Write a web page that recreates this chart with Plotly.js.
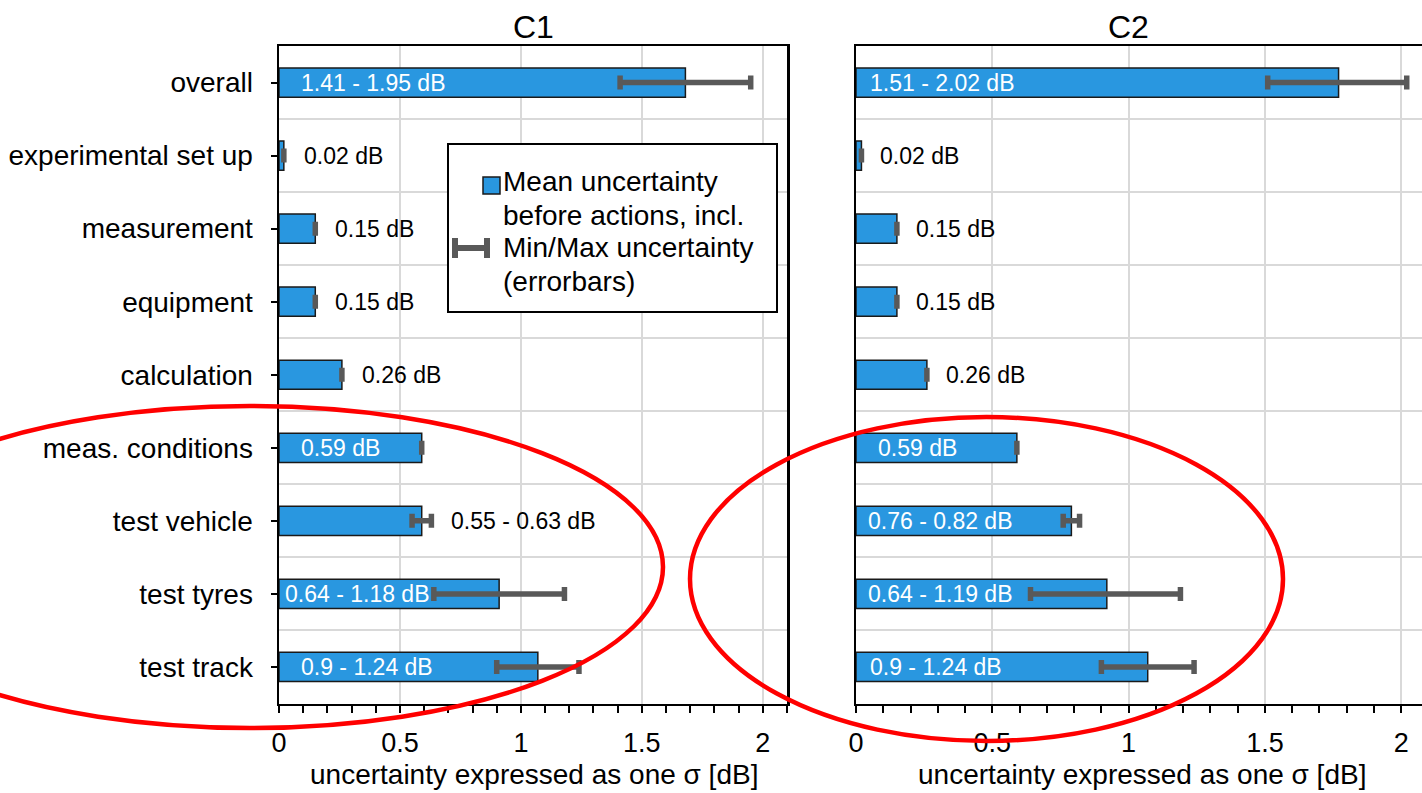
<!DOCTYPE html>
<html><head><meta charset="utf-8">
<script src="https://cdn.plot.ly/plotly-3.0.1.min.js"></script>
<style>html,body{margin:0;padding:0;background:#fff}#chart{width:1422px;height:793px}</style>
</head><body><div id="chart"></div>
<script>
// ---------- data ----------
const categories = ["overall","experimental set up","measurement","equipment","calculation","meas. conditions","test vehicle","test tyres","test track"];
const c1Mean = [1.68, 0.02, 0.15, 0.15, 0.26, 0.59, 0.59, 0.91, 1.07];
const c1Min  = [1.41, 0.02, 0.15, 0.15, 0.26, 0.59, 0.55, 0.64, 0.90];
const c1Max  = [1.95, 0.02, 0.15, 0.15, 0.26, 0.59, 0.63, 1.18, 1.24];
const c1Labels = ["1.41 - 1.95 dB","0.02 dB","0.15 dB","0.15 dB","0.26 dB","0.59 dB","0.55 - 0.63 dB","0.64 - 1.18 dB","0.9 - 1.24 dB"];
const c2Mean = [1.77, 0.02, 0.15, 0.15, 0.26, 0.59, 0.79, 0.92, 1.07];
const c2Min  = [1.51, 0.02, 0.15, 0.15, 0.26, 0.59, 0.76, 0.64, 0.90];
const c2Max  = [2.02, 0.02, 0.15, 0.15, 0.26, 0.59, 0.82, 1.19, 1.24];
const c2Labels = ["1.51 - 2.02 dB","0.02 dB","0.15 dB","0.15 dB","0.26 dB","0.59 dB","0.76 - 0.82 dB","0.64 - 1.19 dB","0.9 - 1.24 dB"];
const xTickVals = [0, 0.5, 1, 1.5, 2];
const xTickText = ["0", "0.5", "1", "1.5", "2"];
const panelTitles = ["C1", "C2"];
const axisTitle = "uncertainty expressed as one \u03c3 [dB]";
const legendLines = ["Mean uncertainty", "before actions, incl.", "Min/Max uncertainty", "(errorbars)"];

// ---------- label placement (style, not data) ----------
const c1Inside = [true,false,false,false,false,true,false,true,true];
const c2Inside = [true,false,false,false,false,true,true,true,true];
const c1InsideShift = [20,0,0,0,0,20,0,4,20];
const c2InsideShift = [12,0,0,0,0,20,10,10,12];

// ---------- styling ----------
const W = 1422, H = 793;
const FONT = "Liberation Sans, Arial, sans-serif";
const BLUE = "rgb(41,151,224)";
const ERR = "#595959";
const GRID = "#d9d9d9";
const px = v => v / W;
const py = v => 1 - v / H;
const idx = categories.map((_, i) => i);

function barTrace(mean, mn, mx, xa, ya) {
  return {
    type: "bar", orientation: "h", x: mean, y: idx, xaxis: xa, yaxis: ya,
    width: 0.4,
    marker: {color: BLUE, line: {color: "#1a1a1a", width: 1.5}},
    error_x: {type: "data", symmetric: false,
      array: mean.map((m, i) => mx[i] - m),
      arrayminus: mean.map((m, i) => m - mn[i]),
      color: ERR, thickness: 5.5, width: 7},
    hoverinfo: "skip", showlegend: false
  };
}

function labelAnns(labels, inside, insideShift, mx, xa, ya, outShift) {
  return labels.map((t, i) => ({
    xref: xa, yref: ya, x: inside[i] ? 0 : mx[i], y: i,
    xanchor: "left", yanchor: "middle",
    xshift: inside[i] ? insideShift[i] : outShift,
    text: t, showarrow: false,
    font: {family: FONT, size: 23, color: inside[i] ? "#ffffff" : "#000000"}
  }));
}

const yDomain = [py(703.5), py(46)];
const xBase = {
  showgrid: true, gridcolor: GRID, gridwidth: 2,
  tickmode: "array", tickvals: xTickVals, ticktext: xTickText,
  ticks: "outside", ticklen: 7, tickwidth: 2, tickcolor: "#000",
  minor: {dtick: 0.1, tick0: 0, ticks: "outside", ticklen: 7, tickwidth: 2, tickcolor: "#000", showgrid: false},
  showline: true, linecolor: "#000", linewidth: 2.5, mirror: true,
  zeroline: false, fixedrange: true, ticklabelstandoff: 7,
  tickfont: {family: FONT, size: 27, color: "#000"}
};
const yBase = {
  domain: yDomain, range: [8.5, -0.5], tickmode: "array", tickvals: idx,
  showgrid: false, zeroline: false,
  minor: {tickmode: "array", tickvals: idx.slice(0, -1).map(i => i + 0.5), showgrid: true, gridcolor: GRID, gridwidth: 2, ticks: ""},
  showline: true, linecolor: "#000", linewidth: 2.5, fixedrange: true
};

const legendY = [181.7, 215, 248, 281];
const textAnns = [
  {xref: "paper", yref: "paper", x: px(533), y: py(27), text: panelTitles[0], showarrow: false, xanchor: "center", yanchor: "middle", font: {family: FONT, size: 32, color: "#000"}},
  {xref: "paper", yref: "paper", x: px(1128), y: py(27), text: panelTitles[1], showarrow: false, xanchor: "center", yanchor: "middle", font: {family: FONT, size: 32, color: "#000"}},
  {xref: "paper", yref: "paper", x: px(534), y: py(774), text: axisTitle, showarrow: false, xanchor: "center", yanchor: "middle", font: {family: FONT, size: 28, color: "#000"}},
  {xref: "paper", yref: "paper", x: px(1142), y: py(774), text: axisTitle, showarrow: false, xanchor: "center", yanchor: "middle", font: {family: FONT, size: 28, color: "#000"}}
].concat(legendLines.map((t, i) => ({
  xref: "paper", yref: "paper", x: px(501), y: py(legendY[i]), text: t, showarrow: false,
  xanchor: "left", yanchor: "middle", align: "left", font: {family: FONT, size: 28, color: "#000"}
})));

const layout = {
  width: W, height: H, margin: {l: 0, r: 0, t: 0, b: 0},
  paper_bgcolor: "#fff", plot_bgcolor: "#fff", showlegend: false,
  font: {family: FONT, color: "#000"},
  xaxis: Object.assign({}, xBase, {domain: [px(279), px(787)], range: [0, 2.1], anchor: "y"}),
  xaxis2: Object.assign({}, xBase, {domain: [px(856), 1], range: [0, 2.076], anchor: "y2"}),
  yaxis: Object.assign({}, yBase, {anchor: "x", ticktext: categories, ticks: "outside", ticklen: 6, tickwidth: 2, tickcolor: "#000",
    mirror: true, ticklabelstandoff: 12, tickfont: {family: FONT, size: 28, color: "#000"}}),
  yaxis2: Object.assign({}, yBase, {anchor: "x2", ticktext: categories.map(() => ""), showticklabels: false, ticks: "", mirror: false}),
  annotations: [].concat(
    labelAnns(c1Labels, c1Inside, c1InsideShift, c1Max, "x", "y", 18),
    labelAnns(c2Labels, c2Inside, c2InsideShift, c2Max, "x2", "y2", 17),
    textAnns
  ),
  shapes: [
    // legend box
    {type: "rect", xref: "paper", yref: "paper", x0: px(448), x1: px(777), y0: py(312), y1: py(144), fillcolor: "#fff", line: {color: "#000", width: 2}, layer: "above"},
    {type: "rect", xref: "paper", yref: "paper", x0: px(483), x1: px(500), y0: py(194), y1: py(177), fillcolor: BLUE, line: {color: "#1a1a1a", width: 1.5}, layer: "above"},
    {type: "line", xref: "paper", yref: "paper", x0: px(452), x1: px(490), y0: py(248), y1: py(248), line: {color: ERR, width: 6}, layer: "above"},
    {type: "line", xref: "paper", yref: "paper", x0: px(455), x1: px(455), y0: py(238), y1: py(258), line: {color: ERR, width: 6}, layer: "above"},
    {type: "line", xref: "paper", yref: "paper", x0: px(487), x1: px(487), y0: py(238), y1: py(258), line: {color: ERR, width: 6}, layer: "above"},
    // red ellipses
    {type: "circle", xref: "paper", yref: "paper", x0: px(-163), x1: px(663), y0: py(728), y1: py(406), line: {color: "#ff0000", width: 4.5}, layer: "above"},
    {type: "circle", xref: "paper", yref: "paper", x0: px(690), x1: px(1283), y0: py(741), y1: py(417), line: {color: "#ff0000", width: 4.5}, layer: "above"}
  ]
};

Plotly.newPlot("chart", [
  barTrace(c1Mean, c1Min, c1Max, "x", "y"),
  barTrace(c2Mean, c2Min, c2Max, "x2", "y2")
], layout, {displayModeBar: false, staticPlot: true});
</script></body></html>
